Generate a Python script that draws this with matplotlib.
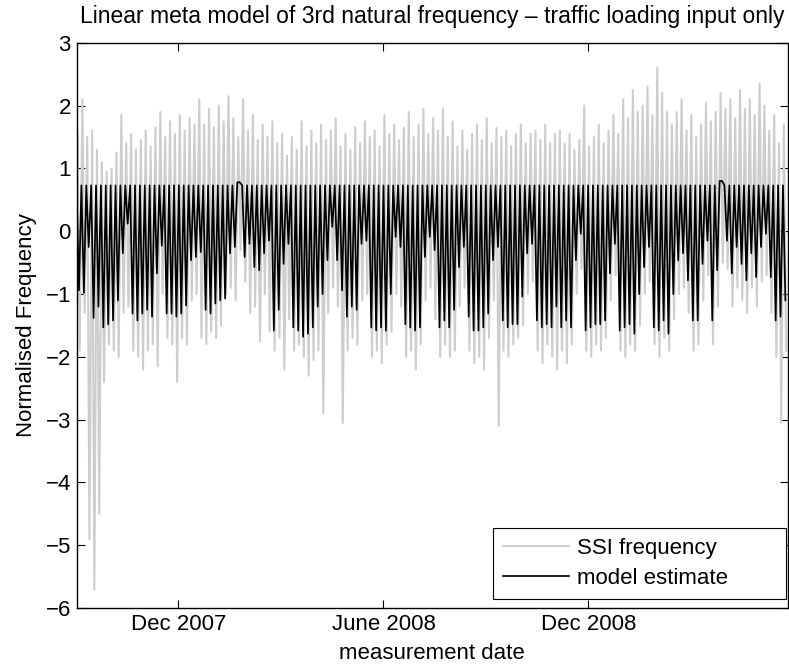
import numpy as np
import matplotlib.pyplot as plt
import matplotlib.dates as mdates
from datetime import datetime

FS = 16

plt.rcParams.update({
    "font.family": ["Liberation Sans", "DejaVu Sans"],
    "font.size": FS,
    "axes.linewidth": 1.0,
    "xtick.direction": "in",
    "ytick.direction": "in",
    "xtick.top": True,
    "ytick.right": True,
    "xtick.labelsize": FS,
    "ytick.labelsize": FS,
})

# measurement window shown on the x axis
date_start = datetime(2007, 9, 1)
date_end = datetime(2009, 5, 28)

# daily minimum of the model estimate, one value per loading cycle
model_low = [
    -0.94, -0.98, -0.25, -1.38, -1.20, -1.53, -1.48, -1.42, -1.10, -0.35,
    0.12, -1.31, -1.42, -1.31, -1.25, -1.36, -0.67, -0.23, -1.31, -1.31,
    -1.36, -1.31, -1.18, -0.46, -0.41,
    -0.33, -1.25, -1.31, -1.15, -1.10, -1.07, -0.35, -0.25, 0.78, -0.41,
    -0.20, -0.57, -0.62, -0.35, -0.15, -1.58, -1.25, -0.52, -0.20, -1.53,
    -1.58, -1.68, -1.63, -1.53, -1.20,
    -1.00, -0.46, 0.07, -0.46, -0.94, -1.36, -1.20, -1.25, -0.20, -0.15,
    -1.53, -1.58, -1.53, -1.58, -1.00, -0.09, -0.25, -1.48, -1.53, -1.58,
    -1.53, -0.41, -0.09, -0.30, -1.53,
    -1.42, -1.53, -1.25, -0.57, -0.25, -1.36, -1.58, -1.58, -1.53, -1.31,
    -0.46, -0.25, -1.42, -1.53, -1.48, -1.48, -1.04, -0.35, -0.20, -1.42,
    -1.53, -1.48, -1.53, -1.20,
    -1.53, -1.42, -1.53, -0.46, -0.04, -1.58, -1.53, -1.48, -1.48, -1.42,
    -0.67, -0.20, -1.58, -1.53, -1.48, -1.63, -1.00, -0.57, -0.25, -1.53,
    -1.58, -1.42, -1.63, -1.00,
    -0.46, -0.35, -0.78, -1.42, -1.42, -0.52, -0.15, -1.42, -0.62, 0.80,
    -0.15, -0.67, -0.25, -0.52, -0.78, -0.35, -0.73, -0.25, -0.04, -0.73,
    -1.42, -1.36, -1.10,
]
model_peak = 0.73

# SSI identified frequency, cycle maxima and minima
ssi_high = [
    1.60, 2.10, 1.50, 1.60, 1.30, 1.10, 0.95, 1.00, 1.25, 1.85,
    1.40, 1.55, 1.30, 1.45, 1.60, 1.35, 1.65, 1.90, 1.50, 1.75,
    1.55, 1.85, 1.60, 1.80, 1.70,
    2.10, 1.70, 1.95, 1.65, 2.00, 1.75, 2.15, 1.80, 1.50, 2.10,
    1.60, 1.85, 1.45, 1.70, 1.50, 1.75, 1.40, 1.55, 1.20, 1.50,
    1.30, 1.75, 1.35, 1.60, 1.40,
    1.70, 1.45, 1.60, 1.80, 1.35, 1.55, 1.30, 1.65, 1.40, 1.75,
    1.50, 1.60, 1.35, 1.85, 1.55, 1.70, 1.45, 1.65, 1.90, 1.50,
    1.70, 1.95, 1.55, 1.80, 1.60,
    1.95, 1.50, 1.75, 1.35, 1.60, 1.30, 1.55, 1.70, 1.45, 1.80,
    1.40, 1.65, 1.50, 1.60, 1.35, 1.55, 1.70, 1.40, 1.55, 1.60,
    1.45, 1.70, 1.40, 1.55,
    1.60, 1.40, 1.55, 1.30, 1.45, 2.00, 1.35, 1.50, 1.70, 1.40,
    1.60, 1.85, 1.55, 2.10, 1.80, 2.25, 1.90, 2.00, 2.30, 1.85,
    2.60, 2.20, 1.90, 1.70,
    1.90, 2.10, 1.60, 1.85, 1.50, 1.70, 2.05, 1.75, 1.90, 2.20,
    1.95, 2.10, 1.80, 2.25, 1.95, 2.10, 1.85, 2.35, 2.00, 1.60,
    1.85, 1.40, 1.70,
]
ssi_low = [
    -1.90, -1.30, -4.90, -5.70, -4.50, -2.40, -1.80, -1.90, -2.00, -1.30,
    -1.20, -1.90, -2.00, -2.20, -1.90, -1.80, -2.15, -1.00, -1.70, -1.80,
    -2.40, -1.70, -1.80, -1.10, -1.00,
    -1.70, -1.80, -1.60, -1.70, -1.50, -1.00, -0.90, -1.10, -0.30, -0.80,
    -1.30, -1.20, -1.75, -1.00, -1.60, -1.90, -1.70, -2.20, -1.40, -1.90,
    -1.80, -2.00, -2.30, -2.05, -1.90,
    -2.90, -1.30, -0.90, -1.20, -3.05, -1.90, -1.70, -1.80, -1.10, -1.00,
    -2.00, -1.90, -2.10, -1.80, -1.60, -1.00, -1.20, -2.00, -1.90, -2.20,
    -1.80, -1.10, -0.90, -1.40, -2.00,
    -1.80, -2.00, -1.90, -1.20, -0.90, -1.90, -2.10, -2.00, -2.20, -1.70,
    -1.10, -3.10, -1.90, -2.00, -1.80, -1.70, -1.50, -1.00, -0.80, -1.90,
    -2.10, -1.80, -2.00, -2.20,
    -1.90, -2.10, -1.80, -1.00, -0.60, -1.90, -2.00, -1.80, -1.90, -1.70,
    -1.10, -0.70, -1.90, -2.00, -1.80, -1.90, -1.50, -1.00, -0.80, -1.80,
    -2.00, -1.70, -1.90, -1.40,
    -1.00, -0.90, -1.30, -1.90, -1.80, -1.10, -0.70, -1.80, -1.20, -0.50,
    -0.60, -1.20, -0.90, -1.10, -1.30, -0.90, -1.20, -0.80, -0.70, -1.30,
    -2.00, -3.05, -1.90,
]


def cycle_series(t0, step, first, second, f_off, s_off):
    t = []
    y = []
    for i in range(len(first)):
        t.append(t0 + (i + f_off) * step)
        y.append(first[i])
        t.append(t0 + (i + s_off) * step)
        y.append(second[i])
    return np.array(t), np.array(y)


t0 = mdates.date2num(date_start)
t1 = mdates.date2num(date_end)
n = len(model_low)
step = (t1 - t0) / n

low = np.array(model_low)
peak = np.where(low > model_peak - 0.05, low, model_peak)

t_ssi, y_ssi = cycle_series(t0, step, ssi_high, ssi_low, 0.2, 0.65)
t_mod, y_mod = cycle_series(t0, step, list(peak), list(low), 0.0, 0.5)

fig = plt.figure(figsize=(7.89, 6.69), dpi=100)
ax = fig.add_axes([0.097, 0.091, 0.9015, 0.845])

ax.plot(t_ssi, y_ssi, color="#cdcdcd", linewidth=1.5, label="SSI frequency")
ax.plot(t_mod, y_mod, color="black", linewidth=1.25, label="model estimate")

ax.set_xlim(t0, t1)
ax.set_ylim(-6, 3)
ax.set_yticks(np.arange(-6, 4, 1))

ax.xaxis.set_major_locator(mdates.MonthLocator(bymonth=[6, 12]))
ax.xaxis.set_major_formatter(mdates.DateFormatter("%b %Y"))
ax.figure.canvas.draw()
ax.set_xticklabels([
    "June 2008" if t.get_text().startswith("Jun") else t.get_text()
    for t in ax.get_xticklabels()
])

ax.tick_params(length=6, width=0.8)
ax.tick_params(axis="x", pad=4)
ax.tick_params(axis="y", pad=4)

ax.set_title(
    "Linear meta model of 3rd natural frequency \u2013 traffic loading input only",
    fontsize=16.5,
    pad=14,
)
ax.set_xlabel("measurement date", fontsize=FS, labelpad=6)
ax.set_ylabel("Normalised Frequency", fontsize=FS, labelpad=6)

# legend box spans the lower right corner, entries left aligned
leg = ax.legend(
    loc="lower left",
    bbox_to_anchor=(0.585, 0.016, 0.413, 0.12),
    mode="expand",
    fancybox=False,
    edgecolor="black",
    framealpha=1,
    fontsize=FS,
    handlelength=3.0,
    handletextpad=0.35,
    borderpad=0.45,
    labelspacing=0.4,
    borderaxespad=0.0,
)
leg.get_frame().set_linewidth(0.8)

fig.savefig("out.png", dpi=100)
plt.close(fig)
